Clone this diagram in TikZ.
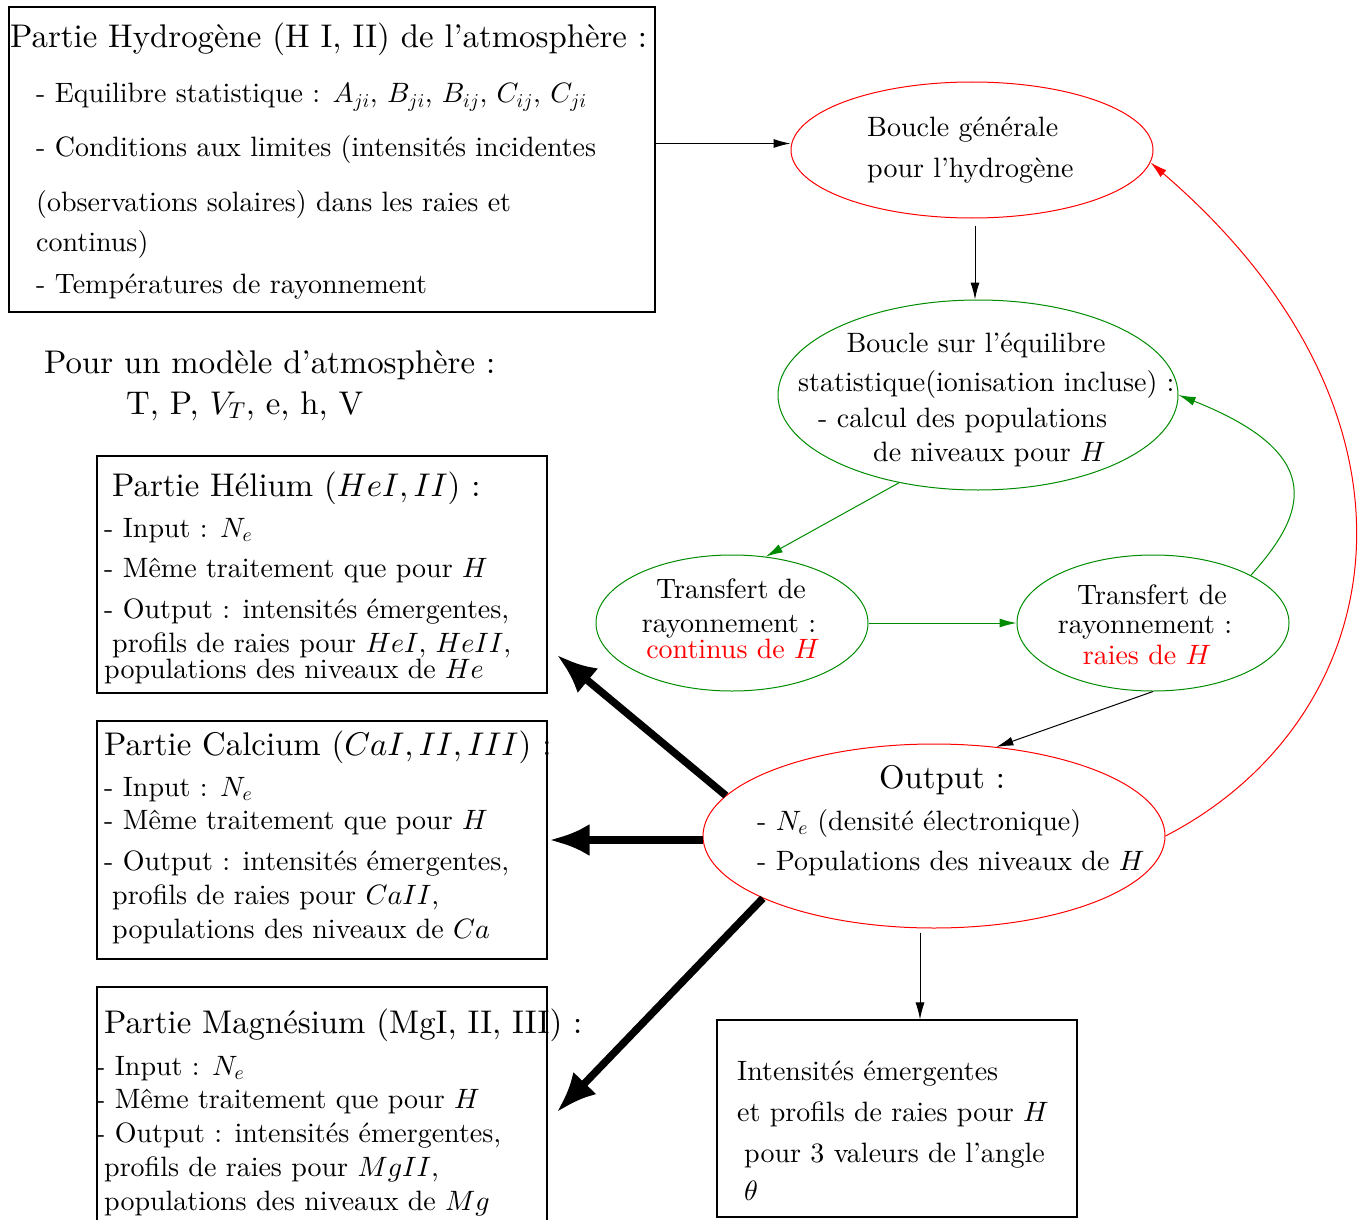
\documentclass[tikz,border=0pt]{standalone}
\usepackage{fontspec}
\setmainfont{lmroman10-regular.otf}[ItalicFont=lmroman10-italic.otf, BoldFont=lmroman10-bold.otf]
\DeclareFontShape{OML}{cmm}{m}{it}{<->cmmi10}{}
\DeclareFontShape{OT1}{cmr}{m}{n}{<->cmr10}{}
\DeclareFontShape{OMS}{cmsy}{m}{n}{<->cmsy10}{}
\usetikzlibrary{shapes.geometric,arrows.meta}
\definecolor{dgreen}{RGB}{0,140,0}
\tikzset{
  txt/.style={anchor=base west, inner sep=0pt, font=\fontsize{28}{34}\selectfont},
  txtc/.style={anchor=base, inner sep=0pt, font=\fontsize{28}{34}\selectfont},
  big/.style={anchor=base west, inner sep=0pt, font=\fontsize{32.8}{39}\selectfont},
  bigc/.style={anchor=base, inner sep=0pt, font=\fontsize{32.8}{39}\selectfont},
  box/.style={draw, line width=1.1pt, rectangle, inner sep=0pt},
  ell/.style={draw, line width=1pt, ellipse, inner sep=0pt},
  thin/.style={line width=1pt, -{Latex[length=17pt,width=9pt]}},
  thick/.style={line width=7.5pt, -{Latex[length=40pt,width=32pt]}},
}
\begin{document}
\begin{tikzpicture}[x=1pt,y=-1pt]
\clip (0,0) rectangle (1365,1220);
\fill[white] (0,0) rectangle (1365,1220);

% ---- boxes
\node[box, minimum width=646pt, minimum height=305pt] (hyd) at (332,159.5) {};
\node[box, minimum width=450pt, minimum height=237pt] (he) at (322,574.5) {};
\node[box, minimum width=450pt, minimum height=238pt] (ca) at (322,840) {};
\node[box, minimum width=450pt, minimum height=253pt] (mg) at (322,1113.5) {};
\node[box, minimum width=360pt, minimum height=197pt] (outbox) at (897,1118.5) {};

% ---- ellipses
\node[ell, red, minimum width=362pt, minimum height=136pt] (b1) at (972,150) {};
\node[ell, dgreen, minimum width=400pt, minimum height=190pt] (b2) at (978,395) {};
\node[ell, dgreen, minimum width=272pt, minimum height=136pt] (e3) at (732,623) {};
\node[ell, dgreen, minimum width=272pt, minimum height=136pt] (e4) at (1153,623) {};
\node[ell, red, minimum width=462pt, minimum height=184pt] (out5) at (934,836) {};

% ---- hydrogen text
\node[big] (h0) at (10,48) {Partie Hydrogène (H I, II) de l'atmosphère :};
\node[txt] (h1) at (36,103) {- Equilibre statistique : $A_{ji}$, $B_{ji}$, $B_{ij}$, $C_{ij}$, $C_{ji}$};
\node[txt] (h2) at (36,157) {- Conditions aux limites (intensités incidentes};
\node[txt] (h3) at (36,211) {(observations solaires) dans les raies et};
\node[txt] (h4) at (36,251) {continus)};
\node[txt] (h5) at (36,293) {- Températures de rayonnement};

\node[big] (m0) at (44,373) {Pour un modèle d'atmosphère :};
\node[big] (m1) at (126,414) {T, P, $V_T$, e, h, V};

% ---- helium
\node[big] (he0) at (112,496) {Partie Hélium ($HeI, II$) :};
\node[txt] (he1) at (104,537) {- Input : $N_e$};
\node[txt] (he2) at (104,577) {- Même traitement que pour $H$};
\node[txt] (he3) at (104,618) {- Output : intensités émergentes,};
\node[txt] (he4) at (112,652) {profils de raies pour $HeI$, $HeII$,};
\node[txt] (he5) at (104,678) {populations des niveaux de $He$};

% ---- calcium
\node[big] (ca0) at (104,755) {Partie Calcium ($CaI, II, III$) :};
\node[txt] (ca1) at (104,796) {- Input : $N_e$};
\node[txt] (ca2) at (104,829) {- Même traitement que pour $H$};
\node[txt] (ca3) at (104,870) {- Output : intensités émergentes,};
\node[txt] (ca4) at (112,904) {profils de raies pour $CaII$,};
\node[txt] (ca5) at (112,938) {populations des niveaux de $Ca$};

% ---- magnesium
\node[big] (mg0) at (104,1033) {Partie Magnésium (MgI, II, III) :};
\node[txt] (mg1) at (96,1075) {- Input : $N_e$};
\node[txt] (mg2) at (96,1108) {- Même traitement que pour $H$};
\node[txt] (mg3) at (96,1142) {- Output : intensités émergentes,};
\node[txt] (mg4) at (104,1176) {profils de raies pour $MgII$,};
\node[txt] (mg5) at (104,1210) {populations des niveaux de $Mg$};

% ---- output box
\node[txt] (o1) at (737,1080) {Intensités émergentes};
\node[txt] (o2) at (737,1121) {et profils de raies pour $H$};
\node[txt] (o3) at (744,1162) {pour 3 valeurs de l'angle};
\node[txt] (o4) at (744,1200) {$\theta$};

% ---- ellipse texts
\node[txt] (b1a) at (867,136) {Boucle générale};
\node[txt] (b1b) at (867,177) {pour l'hydrogène};
\node[txtc] (b2a) at (976,352) {Boucle sur l'équilibre};
\node[txt] (b2b) at (798,391) {statistique(ionisation incluse) :};
\node[txt] (b2c) at (818,427) {- calcul des populations};
\node[txt] (b2d) at (873,461) {de niveaux pour $H$};
\node[txtc] (e3a) at (731,598) {Transfert de};
\node[txtc] (e3b) at (729,632) {rayonnement :};
\node[txtc, red] (e3c) at (733,658) {continus de $H$};
\node[txtc] (e4a) at (1152,604) {Transfert de};
\node[txtc] (e4b) at (1145,633) {rayonnement :};
\node[txtc, red] (e4c) at (1147,664) {raies de $H$};
\node[bigc] (o5a) at (942,788) {Output :};
\node[txt] (o5b) at (757,830) {- $N_e$ (densité électronique)};
\node[txt] (o5c) at (757,870) {- Populations des niveaux de $H$};

% ---- coordinates for free ends
\coordinate (heTip) at (557,655);
\coordinate (mgTip) at (557,1112);

% ---- connectors
\draw[thin] ([yshift=16pt]hyd.east) -- ([yshift=16pt]hyd.east -| b1.west);
\draw[thin, shorten <=7pt] (b1.south -| 975,0) -- (b2.north -| 975,0);
\draw[thin, dgreen] (b2.228) -- (e3.63);
\draw[thin, dgreen] (e3.east) -- (e4.west);
\draw[thin, dgreen] (e4.26) .. controls (1305,515) and (1330,455) .. (b2.east);
\draw[thin] (e4.south) -- (out5.55);
\draw[thin, red] (out5.east) .. controls (1390,720) and (1450,420) .. (b1.-4);
\draw[thin, shorten <=4pt] (out5.south -| 920,0) -- (outbox.north -| 920,0);

\draw[thick] (out5.169) -- (heTip);
\draw[thick] (ca.east -| out5.west) -- ([xshift=2pt]ca.east);
\draw[thick] (out5.200) -- (mgTip);
\end{tikzpicture}
\end{document}
